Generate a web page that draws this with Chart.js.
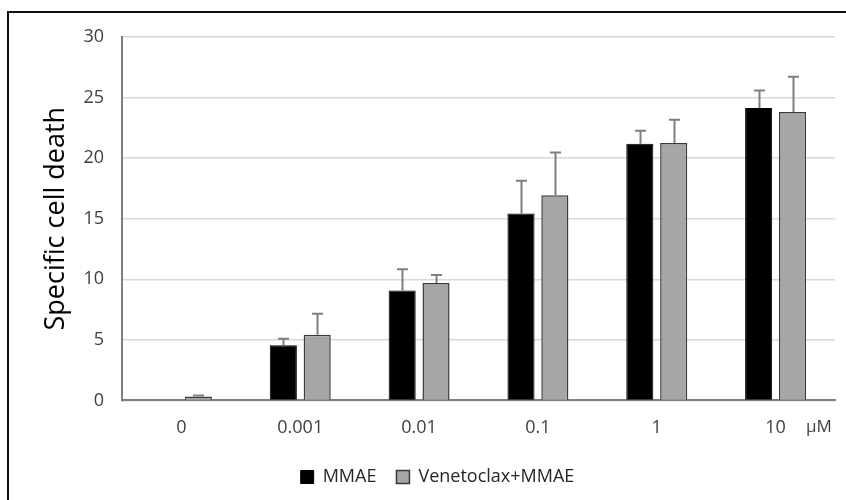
<!DOCTYPE html>
<html>
<head>
<meta charset="utf-8">
<script src="https://cdn.jsdelivr.net/npm/chart.js@4/dist/chart.umd.min.js"></script>
<style>
  html, body { margin: 0; padding: 0; background: #fff; }
  #wrap { width: 846px; height: 500px; }
</style>
</head>
<body>
<div id="wrap"><canvas id="deathChart"></canvas></div>
<script>
// Data
const doses = ['0', '0.001', '0.01', '0.1', '1', '10'];
const mmaeValues = [0, 4.56, 9.07, 15.42, 21.19, 24.13];
const mmaeErrors = [0, 0.52, 1.75, 2.72, 1.07, 1.45];
const comboValues = [0.33, 5.42, 9.70, 16.93, 21.24, 23.80];
const comboErrors = [0.07, 1.73, 0.66, 3.54, 1.93, 2.91];
const yTicks = [0, 5, 10, 15, 20, 25, 30];

const errorLookup = [mmaeErrors, comboErrors];

// Upward-only error bars with caps
const errorBars = {
    id: 'errorBars',
    afterDatasetsDraw(chart) {
        const { ctx, scales: { y } } = chart;
        ctx.save();
        ctx.strokeStyle = '#7f7f7f';
        ctx.lineWidth = 2;
        chart.data.datasets.forEach((ds, i) => {
            const meta = chart.getDatasetMeta(i);
            meta.data.forEach((bar, j) => {
                const err = errorLookup[i][j];
                if (!err) return;
                const top = y.getPixelForValue(ds.data[j] + err);
                const x = Math.round(bar.x) + 0.5;
                ctx.beginPath();
                ctx.moveTo(x, bar.y);
                ctx.lineTo(x, top);
                ctx.moveTo(x - 5.5, top);
                ctx.lineTo(x + 5.5, top);
                ctx.stroke();
            });
        });
        ctx.restore();
    }
};

// Frame lines and the unit label
const extras = {
    id: 'extras',
    beforeDraw(chart) {
        const { ctx } = chart;
        ctx.save();
        ctx.fillStyle = '#fff';
        ctx.fillRect(0, 0, chart.width, chart.height);
        ctx.strokeStyle = '#111';
        ctx.lineWidth = 2;
        ctx.beginPath();
        ctx.moveTo(8, chart.height);
        ctx.lineTo(8, 12);
        ctx.lineTo(chart.width, 12);
        ctx.stroke();
        ctx.restore();
    },
    afterDraw(chart) {
        const { ctx, chartArea } = chart;
        ctx.save();
        ctx.fillStyle = '#404040';
        ctx.font = '17px "Open Sans"';
        ctx.textAlign = 'center';
        ctx.textBaseline = 'middle';
        ctx.fillText('\u03bcM', chartArea.right - 16, chartArea.bottom + 27);
        ctx.restore();
    }
};

new Chart(document.getElementById('deathChart'), {
    type: 'bar',
    data: {
        labels: doses,
        datasets: [
            {
                label: 'MMAE',
                data: mmaeValues,
                backgroundColor: '#000000',
                borderColor: '#000000',
                borderWidth: 1,
                categoryPercentage: 0.57,
                barPercentage: 0.8
            },
            {
                label: 'Venetoclax+MMAE',
                data: comboValues,
                backgroundColor: '#a6a6a6',
                borderColor: '#3a3a3a',
                borderWidth: 1.5,
                categoryPercentage: 0.57,
                barPercentage: 0.8
            }
        ]
    },
    options: {
        responsive: true,
        maintainAspectRatio: false,
        animation: false,
        layout: { padding: { left: 40, right: 11, top: 37, bottom: 4 } },
        plugins: {
            legend: {
                position: 'bottom',
                labels: {
                    color: '#262626',
                    font: { family: 'Open Sans', size: 18 },
                    boxWidth: 13,
                    boxHeight: 13,
                    padding: 20
                }
            },
            tooltip: { enabled: false }
        },
        scales: {
            x: {
                grid: { display: false },
                border: { color: '#7f7f7f', width: 2 },
                ticks: {
                    color: '#404040',
                    font: { family: 'Open Sans', size: 18 },
                    padding: 9
                }
            },
            y: {
                min: 0,
                max: 30,
                afterBuildTicks(scale) {
                    scale.ticks = yTicks.map(v => ({ value: v }));
                },
                afterFit(scale) { scale.width = 82; },
                grid: { color: '#d9d9d9', lineWidth: 1.5, drawTicks: false },
                border: { color: '#7f7f7f', width: 2 },
                ticks: {
                    color: '#404040',
                    font: { family: 'Open Sans', size: 18 },
                    padding: 18
                },
                title: {
                    display: true,
                    text: 'Specific cell death',
                    color: '#000',
                    font: { family: 'Open Sans', size: 27 },
                    padding: { top: 0, bottom: 0 }
                }
            }
        }
    },
    plugins: [errorBars, extras]
});
</script>
</body>
</html>
